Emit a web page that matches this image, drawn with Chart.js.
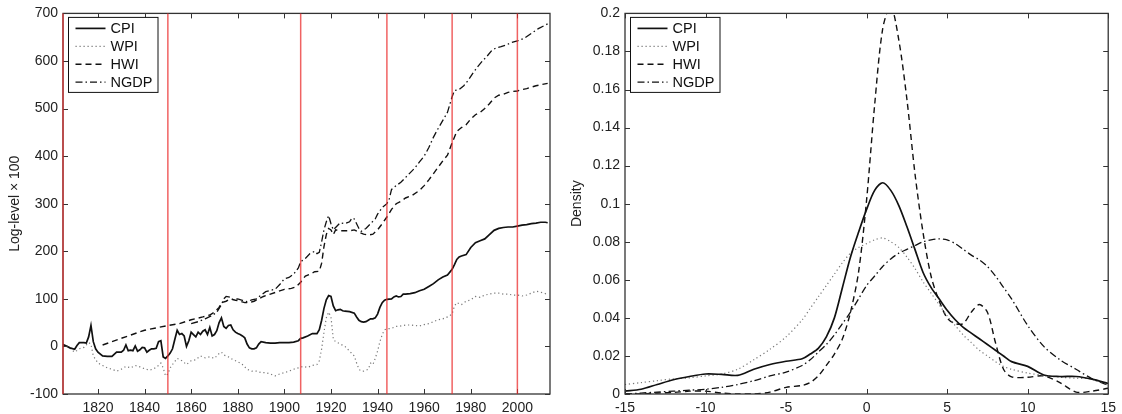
<!DOCTYPE html>
<html>
<head>
<meta charset="utf-8">
<script src="https://cdn.jsdelivr.net/npm/chart.js@4"></script>
<style>
html, body { margin: 0; padding: 0; background: #fff; }
#wrap { position: relative; width: 1122px; height: 414px; }
#left { position: absolute; left: 0; top: 0; }
#right { position: absolute; left: 560px; top: 0; }
</style>
</head>
<body>
<div id="wrap">
  <canvas id="left" width="560" height="414"></canvas>
  <canvas id="right" width="562" height="414"></canvas>
</div>
<script>
// ---- left panel: log levels x 100 ----
const seriesNames = ['CPI', 'WPI', 'HWI', 'NGDP'];
const yearTicks = [1820, 1840, 1860, 1880, 1900, 1920, 1940, 1960, 1980, 2000];
const levelTicks = [-100, 0, 100, 200, 300, 400, 500, 600, 700];
const breakYears = [1805, 1850, 1907, 1944, 1972, 2000];

const cpiYears = [1805, 1806, 1808, 1810, 1811, 1812, 1814, 1815, 1816, 1817,
  1818, 1819, 1820, 1822, 1824, 1826, 1828, 1830, 1831, 1832,
  1833, 1834, 1835, 1836, 1837, 1838, 1839, 1840, 1841, 1842,
  1843, 1844, 1845, 1846, 1847, 1848, 1849, 1850, 1851, 1852,
  1853, 1854, 1855, 1856, 1857, 1858, 1859, 1860, 1861, 1862,
  1863, 1864, 1865, 1866, 1867, 1868, 1869, 1870, 1871, 1872,
  1873, 1874, 1875, 1876, 1877, 1878, 1879, 1880, 1881, 1882,
  1883, 1884, 1885, 1886, 1887, 1888, 1889, 1890, 1892, 1894,
  1896, 1898, 1900, 1902, 1904, 1906, 1907, 1908, 1910, 1912,
  1913, 1914, 1915, 1916, 1917, 1918, 1919, 1920, 1921, 1922,
  1923, 1924, 1925, 1926, 1928, 1930, 1931, 1932, 1933, 1934,
  1935, 1936, 1937, 1938, 1939, 1940, 1941, 1942, 1943, 1944,
  1946, 1947, 1948, 1949, 1950, 1951, 1952, 1954, 1956, 1958,
  1960, 1962, 1964, 1966, 1968, 1970, 1972, 1973, 1974, 1975,
  1976, 1978, 1980, 1982, 1984, 1986, 1988, 1990, 1992, 1994,
  1996, 1998, 2000, 2002, 2004, 2006, 2008, 2010, 2012, 2013];
const cpiLevels = [4, 2, -3, -6, 2, 8, 8, 7, 20, 44,
  10, -5, -12, -20, -21, -21, -12, -12, -8, 3,
  -9, -8, -9, 1, -10, -7, -2, -3, -12, -8,
  -5, -5, -4, 10, 12, -22, -25, -20, -14, -5,
  15, 34, 25, 27, 22, 0, 12, 30, 25, 20,
  30, 25, 32, 35, 25, 40, 22, 25, 33, 50,
  60, 42, 38, 44, 45, 35, 30, 27, 25, 22,
  18, 5, -3, -5, -5, -3, 5, 10, 8, 7,
  7, 8, 8, 8, 9, 12, 17, 18, 22, 27,
  27, 27, 35, 55, 80, 98, 107, 105, 85, 75,
  77, 78, 75, 74, 73, 70, 62, 55, 52, 51,
  52, 55, 58, 58, 60, 68, 82, 92, 97, 99,
  100, 104, 106, 104, 105, 110, 110, 111, 113, 117,
  120, 126, 132, 140, 146, 150, 162, 172, 183, 188,
  190, 193, 208, 218, 222, 226, 235, 244, 248, 250,
  251, 251, 253, 255, 256, 258, 259, 261, 261, 260];

const wpiYears = [1805, 1807, 1810, 1812, 1814, 1816, 1817, 1818, 1820, 1822,
  1824, 1826, 1828, 1830, 1832, 1834, 1836, 1838, 1840, 1842,
  1844, 1846, 1847, 1848, 1849, 1850, 1851, 1852, 1854, 1856,
  1858, 1860, 1862, 1864, 1866, 1868, 1870, 1872, 1873, 1874,
  1876, 1878, 1880, 1882, 1884, 1886, 1888, 1890, 1892, 1894,
  1896, 1898, 1900, 1902, 1904, 1906, 1908, 1910, 1912, 1914,
  1915, 1916, 1917, 1918, 1919, 1920, 1921, 1922, 1924, 1926,
  1928, 1930, 1931, 1932, 1933, 1934, 1935, 1936, 1937, 1938,
  1939, 1940, 1941, 1942, 1943, 1944, 1946, 1948, 1950, 1952,
  1954, 1956, 1958, 1960, 1962, 1964, 1966, 1968, 1970, 1972,
  1973, 1974, 1976, 1978, 1980, 1982, 1984, 1986, 1988, 1990,
  1992, 1994, 1996, 1998, 2000, 2002, 2004, 2006, 2008, 2010,
  2012, 2013];
const wpiLevels = [5, 0, -12, -5, -2, 8, 5, -20, -35, -40,
  -45, -48, -52, -48, -42, -45, -40, -43, -47, -50,
  -47, -40, -35, -45, -62, -58, -45, -38, -25, -30,
  -38, -30, -28, -20, -24, -22, -25, -15, -12, -18,
  -22, -28, -32, -38, -48, -52, -52, -55, -55, -58,
  -62, -58, -55, -52, -48, -45, -42, -44, -40, -38,
  -30, -5, 30, 60, 72, 62, 15, 10, 5, 0,
  -10, -20, -35, -48, -52, -52, -50, -48, -35, -38,
  -25, -10, 10, 25, 35, 37, 38, 42, 43, 45,
  45, 44, 43, 46, 48, 52, 56, 58, 62, 68,
  85, 92, 88, 95, 98, 105, 103, 108, 110, 112,
  112, 110, 110, 108, 108, 106, 108, 112, 116, 114,
  111, 108];

const hwiYears = [1822, 1830, 1840, 1850, 1855, 1860, 1865, 1868, 1870, 1872,
  1873, 1875, 1877, 1879, 1881, 1883, 1885, 1887, 1889, 1891,
  1894, 1897, 1900, 1903, 1905, 1907, 1909, 1911, 1913, 1915,
  1916, 1917, 1918, 1919, 1920, 1921, 1922, 1924, 1926, 1928,
  1930, 1932, 1934, 1936, 1938, 1940, 1942, 1944, 1946, 1948,
  1950, 1952, 1955, 1958, 1960, 1962, 1965, 1968, 1970, 1972,
  1974, 1976, 1978, 1980, 1982, 1984, 1986, 1988, 1990, 1992,
  1994, 1996, 1998, 2000, 2002, 2004, 2006, 2008, 2010, 2013];
const hwiLevels = [3, 17, 34, 44, 48, 56, 62, 66, 72, 82,
  92, 95, 100, 97, 95, 92, 92, 95, 100, 105,
  110, 115, 120, 122, 125, 135, 148, 152, 157, 158,
  175, 210, 235, 248, 245, 235, 245, 243, 243, 243,
  245, 240, 236, 234, 236, 245, 258, 272, 288, 300,
  305, 312, 318, 328, 338, 350, 370, 390, 402, 428,
  452, 460, 466, 478, 487, 492, 500, 510, 522, 528,
  530, 534, 536, 537, 540, 542, 545, 548, 550, 553];

const ngdpYears = [1860, 1863, 1866, 1869, 1871, 1873, 1874, 1875, 1877, 1878,
  1880, 1882, 1884, 1886, 1888, 1890, 1892, 1894, 1896, 1898,
  1900, 1902, 1904, 1906, 1907, 1909, 1911, 1913, 1914, 1915,
  1916, 1917, 1918, 1919, 1920, 1921, 1922, 1924, 1926, 1928,
  1929, 1930, 1931, 1932, 1933, 1935, 1937, 1939, 1940, 1942,
  1944, 1945, 1946, 1948, 1950, 1953, 1956, 1958, 1960, 1962,
  1964, 1966, 1968, 1970, 1972, 1973, 1975, 1977, 1979, 1981,
  1983, 1985, 1987, 1989, 1991, 1993, 1995, 1997, 2000, 2003,
  2006, 2009, 2013];
const ngdpLevels = [48, 52, 58, 65, 72, 88, 100, 105, 103, 98,
  100, 97, 94, 98, 100, 108, 115, 118, 120, 130,
  142, 145, 152, 165, 178, 185, 195, 200, 195, 198,
  220, 245, 262, 275, 258, 245, 250, 260, 258, 262,
  270, 268, 258, 248, 242, 248, 258, 268, 278, 292,
  300, 310, 330, 338, 345, 360, 375, 388, 400, 418,
  440, 458, 475, 492, 525, 538, 540, 548, 560, 575,
  588, 600, 610, 622, 628, 630, 633, 638, 642, 648,
  658, 668, 678];

// ---- right panel: kernel densities ----
const growthGrid = [-15, -14, -13, -12, -11, -10, -9, -8, -7, -6,
  -5, -4, -3.5, -3, -2.5, -2, -1.5, -1, -0.5, 0,
  0.5, 1, 1.5, 2, 2.5, 3, 3.5, 4, 4.5, 5,
  5.5, 6, 6.5, 7, 7.5, 8, 8.5, 9, 10, 11,
  12, 13, 14, 15];
const growthTicks = [-15, -10, -5, 0, 5, 10, 15];
const densityTicks = [0, 0.02, 0.04, 0.06, 0.08, 0.1, 0.12, 0.14, 0.16, 0.18, 0.2];
const cpiDensity = [0.0015, 0.0025, 0.005, 0.0075, 0.0092, 0.0105, 0.0103, 0.0098, 0.013, 0.0155,
  0.0172, 0.0185, 0.021, 0.024, 0.030, 0.040, 0.056, 0.072, 0.085, 0.097,
  0.107, 0.111, 0.107, 0.099, 0.088, 0.076, 0.064, 0.056, 0.050, 0.044,
  0.039, 0.035, 0.032, 0.029, 0.026, 0.023, 0.020, 0.017, 0.0145, 0.010,
  0.0092, 0.0092, 0.0078, 0.0055];
const wpiDensity = [0.005, 0.006, 0.007, 0.008, 0.0085, 0.0095, 0.0105, 0.013, 0.018, 0.0235,
  0.030, 0.039, 0.045, 0.051, 0.057, 0.063, 0.069, 0.074, 0.077, 0.079,
  0.081, 0.082, 0.080, 0.077, 0.072, 0.066, 0.059, 0.053, 0.047, 0.041,
  0.036, 0.031, 0.027, 0.023, 0.020, 0.017, 0.0145, 0.013, 0.011, 0.0098,
  0.0088, 0.0083, 0.0078, 0.0045];
const hwiDensity = [0, 0, 0.0005, 0.0008, 0.0015, 0.0015, 0.0005, 0, 0, 0.001,
  0.0035, 0.0045, 0.006, 0.0095, 0.015, 0.021, 0.029, 0.043, 0.064, 0.102,
  0.152, 0.192, 0.204, 0.186, 0.155, 0.116, 0.085, 0.062, 0.049, 0.040,
  0.037, 0.037, 0.043, 0.047, 0.043, 0.027, 0.013, 0.009, 0.0088, 0.0095,
  0.006, 0.001, 0.0015, 0.003];
const ngdpDensity = [0, 0.0005, 0.001, 0.0015, 0.002, 0.0025, 0.0035, 0.005, 0.007, 0.0095,
  0.0115, 0.015, 0.018, 0.022, 0.026, 0.031, 0.037, 0.043, 0.050, 0.057,
  0.062, 0.067, 0.071, 0.074, 0.076, 0.078, 0.080, 0.081, 0.0815, 0.081,
  0.079, 0.076, 0.073, 0.0705, 0.067, 0.062, 0.056, 0.050, 0.036, 0.025,
  0.018, 0.013, 0.008, 0.0045];

const FONT = "'Liberation Sans', Arial, Helvetica, sans-serif";
const lineStyles = [
  { borderColor: '#111', borderWidth: 1.7, borderDash: [] },
  { borderColor: '#777', borderWidth: 1.2, borderDash: [1.2, 2.8] },
  { borderColor: '#111', borderWidth: 1.4, borderDash: [6, 4] },
  { borderColor: '#111', borderWidth: 1.3, borderDash: [7, 3, 1.5, 3] }
];

function pts(xs, ys) {
  return xs.map((x, i) => ({ x: x, y: ys[i] }));
}

function makeDatasets(pairs, tension) {
  return pairs.map((p, i) => Object.assign({
    label: seriesNames[i],
    data: pts(p[0], p[1]),
    pointRadius: 0,
    fill: false,
    tension: tension
  }, lineStyles[i]));
}

// MATLAB style box with inward ticks, break lines and framed legend
const matlabFrame = {
  id: 'matlabFrame',
  afterDatasetsDraw(chart, args, opts) {
    const { ctx, chartArea: a, scales } = chart;
    ctx.save();
    ctx.setLineDash([]);
    ctx.strokeStyle = '#333';
    ctx.lineWidth = 1.3;
    ctx.strokeRect(a.left, a.top, a.width, a.height);
    ctx.lineWidth = 1;
    ctx.beginPath();
    scales.x.ticks.forEach(t => {
      const x = Math.round(scales.x.getPixelForValue(t.value)) + 0.5;
      ctx.moveTo(x, a.bottom); ctx.lineTo(x, a.bottom - 5);
      ctx.moveTo(x, a.top); ctx.lineTo(x, a.top + 5);
    });
    scales.y.ticks.forEach(t => {
      const y = Math.round(scales.y.getPixelForValue(t.value)) + 0.5;
      ctx.moveTo(a.left, y); ctx.lineTo(a.left + 5, y);
      ctx.moveTo(a.right, y); ctx.lineTo(a.right - 5, y);
    });
    ctx.stroke();

    (opts.breaks || []).forEach(yr => {
      const x = scales.x.getPixelForValue(yr);
      ctx.strokeStyle = 'rgba(235, 45, 45, 0.75)';
      ctx.lineWidth = 1.5;
      ctx.beginPath();
      ctx.moveTo(x, a.top); ctx.lineTo(x, a.bottom);
      ctx.stroke();
    });

    // legend
    const bx = a.left + 5.5, by = a.top + 4, bw = 89.5, bh = 75;
    ctx.fillStyle = '#fff';
    ctx.fillRect(bx, by, bw, bh);
    ctx.strokeStyle = '#111';
    ctx.lineWidth = 1;
    ctx.strokeRect(bx, by, bw, bh);
    ctx.font = '14.5px ' + FONT;
    ctx.textBaseline = 'middle';
    chart.data.datasets.forEach((ds, i) => {
      const y = by + 11 + i * 17.9;
      ctx.strokeStyle = ds.borderColor;
      ctx.lineWidth = ds.borderWidth;
      ctx.setLineDash(ds.borderDash);
      ctx.beginPath();
      ctx.moveTo(bx + 7, y); ctx.lineTo(bx + 37, y);
      ctx.stroke();
      ctx.setLineDash([]);
      ctx.fillStyle = '#111';
      ctx.fillText(ds.label, bx + 42, y + 1);
    });
    ctx.restore();
  }
};

function axisOptions(cfg) {
  return {
    responsive: false,
    animation: false,
    devicePixelRatio: 1,
    layout: { padding: { top: 13, right: cfg.padRight, bottom: 0, left: 0 } },
    plugins: {
      legend: { display: false },
      tooltip: { enabled: false },
      matlabFrame: { breaks: cfg.breaks }
    },
    scales: {
      x: {
        type: 'linear',
        min: cfg.xMin, max: cfg.xMax,
        grid: { display: false, drawTicks: false },
        border: { display: false },
        afterBuildTicks: s => { s.ticks = cfg.xTicks.map(v => ({ value: v })); },
        afterFit: s => { s.height = 20; },
        ticks: {
          color: '#222', padding: 6, maxRotation: 0, autoSkip: false,
          font: { family: FONT, size: 14 },
          callback: v => String(v)
        }
      },
      y: {
        min: cfg.yMin, max: cfg.yMax,
        grid: { display: false, drawTicks: false },
        border: { display: false },
        afterBuildTicks: s => { s.ticks = cfg.yTicks.map(v => ({ value: v })); },
        afterFit: s => { s.width = cfg.yWidth; },
        title: {
          display: true, text: cfg.yTitle, color: '#222',
          font: { family: FONT, size: 14 },
          padding: { top: cfg.titlePad, bottom: 0 }
        },
        ticks: {
          color: '#222', padding: 5, autoSkip: false,
          font: { family: FONT, size: 14 },
          callback: v => String(+v.toFixed(2))
        }
      }
    }
  };
}

new Chart(document.getElementById('left'), {
  type: 'line',
  data: {
    datasets: makeDatasets([
      [cpiYears, cpiLevels],
      [wpiYears, wpiLevels],
      [hwiYears, hwiLevels],
      [ngdpYears, ngdpLevels]
    ], 0)
  },
  options: axisOptions({
    xMin: 1805, xMax: 2014, xTicks: yearTicks,
    yMin: -100, yMax: 700, yTicks: levelTicks,
    yTitle: 'Log-level \u00d7 100', yWidth: 63, padRight: 10, titlePad: 7,
    breaks: breakYears
  }),
  plugins: [matlabFrame]
});

new Chart(document.getElementById('right'), {
  type: 'line',
  data: {
    datasets: makeDatasets([
      [growthGrid, cpiDensity],
      [growthGrid, wpiDensity],
      [growthGrid, hwiDensity],
      [growthGrid, ngdpDensity]
    ], 0.3)
  },
  options: axisOptions({
    xMin: -15, xMax: 15, xTicks: growthTicks,
    yMin: 0, yMax: 0.2, yTicks: densityTicks,
    yTitle: 'Density', yWidth: 65, padRight: 10, titlePad: 9,
    breaks: []
  }),
  plugins: [matlabFrame]
});
</script>
</body>
</html>
